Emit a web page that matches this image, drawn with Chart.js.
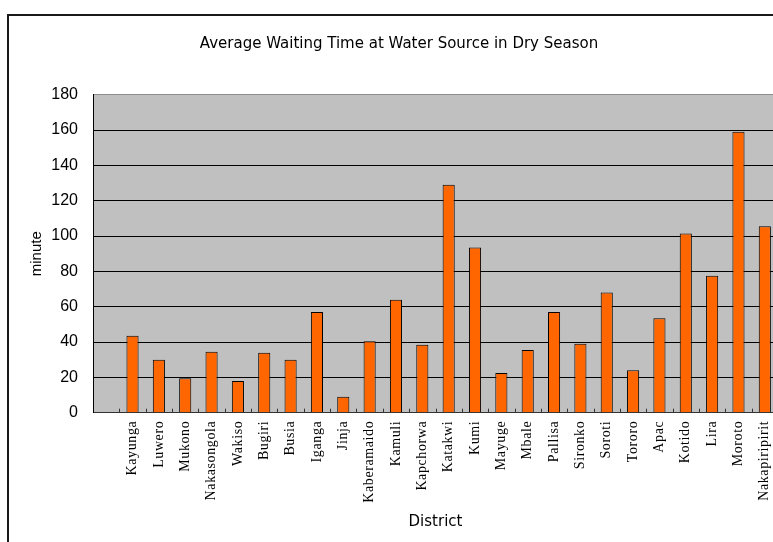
<!DOCTYPE html>
<html>
<head>
<meta charset="utf-8">
<script src="https://cdn.jsdelivr.net/npm/chart.js@4.4.1/dist/chart.umd.min.js"></script>
<style>
  html, body { margin: 0; padding: 0; background: #fff; overflow: hidden; width: 773px; height: 542px; }
  #frame { position: absolute; left: 7px; top: 14px; width: 900px; height: 700px;
           border-left: 2px solid #1a1a1a; border-top: 2px solid #1a1a1a; box-sizing: border-box; }
  #wrap { position: absolute; left: 0; top: 0; width: 790px; height: 542px; }
</style>
</head>
<body>
<div id="frame"></div>
<div id="wrap"><canvas id="chart" width="790" height="542"></canvas></div>
<script>
// District names (first slot intentionally left blank)
const districts = [
  '', 'Kayunga', 'Luwero', 'Mukono', 'Nakasongola', 'Wakiso', 'Bugiri', 'Busia',
  'Iganga', 'Jinja', 'Kaberamaido', 'Kamuli', 'Kapchorwa', 'Katakwi', 'Kumi',
  'Mayuge', 'Mbale', 'Pallisa', 'Sironko', 'Soroti', 'Tororo', 'Apac', 'Kotido',
  'Lira', 'Moroto', 'Nakapiripirit'
];

// Average waiting time at the water source, dry season (minutes)
const waitMinutes = [
  null, 43.5, 30, 19.5, 34.5, 18, 34, 30,
  57, 9, 40.5, 64, 38.5, 129, 93.5,
  22.5, 35.5, 57, 39, 68, 24, 53.5, 101.5,
  77.5, 159, 105.5
];

// Value axis range
const yMin = 0;
const yMax = 180;
const yStep = 20;

// Grey plot-area background
const plotBackground = {
  id: 'plotBackground',
  beforeDraw(chart) {
    const { ctx, chartArea: a } = chart;
    ctx.save();
    ctx.fillStyle = '#c0c0c0';
    ctx.fillRect(a.left, a.top, a.right - a.left, a.bottom - a.top);
    ctx.restore();
  }
};

// Short tick marks pointing up into the plot, between categories
const innerTicks = {
  id: 'innerTicks',
  afterDatasetsDraw(chart) {
    const { ctx, chartArea: a } = chart;
    const x = chart.scales.x;
    ctx.save();
    ctx.strokeStyle = '#333';
    ctx.lineWidth = 1;
    ctx.beginPath();
    for (let i = 1; i < districts.length; i++) {
      const px = Math.round(x.getPixelForValue(i - 0.5)) + 0.5;
      ctx.moveTo(px, a.bottom);
      ctx.lineTo(px, a.bottom - 4);
    }
    ctx.stroke();
    ctx.restore();
  }
};

// Slightly spaced letters for the category labels
const spacedLabels = {
  id: 'spacedLabels',
  afterLayout(chart) {
    const sc = chart.scales.x;
    if (sc && !sc._spaced) {
      const orig = sc.drawLabels.bind(sc);
      sc.drawLabels = function (area) {
        const ctx = chart.ctx;
        ctx.save();
        ctx.letterSpacing = '0.6px';
        orig(area);
        ctx.letterSpacing = '0px';
        ctx.restore();
      };
      sc._spaced = true;
    }
  }
};

new Chart(document.getElementById('chart'), {
  type: 'bar',
  data: {
    labels: districts,
    datasets: [{
      label: 'minute',
      data: waitMinutes,
      backgroundColor: '#ff6600',
      borderColor: '#000000',
      borderWidth: 1,
      borderSkipped: 'bottom',
      barPercentage: 0.46,
      categoryPercentage: 1.0
    }]
  },
  options: {
    responsive: false,
    animation: false,
    events: [],
    layout: { padding: { left: 20, right: 12, top: 0, bottom: 0 } },
    plugins: {
      legend: { display: false },
      tooltip: { enabled: false },
      title: {
        display: true,
        text: 'Average Waiting Time at Water Source in Dry Season',
        color: '#000',
        font: { family: 'DejaVu Sans', size: 15, weight: 'normal', lineHeight: 1.2 },
        padding: { top: 35, bottom: 41.7 }
      }
    },
    scales: {
      x: {
        offset: true,
        grid: { display: false, drawTicks: false },
        border: { display: true, color: '#333', width: 1 },
        ticks: {
          autoSkip: false,
          maxRotation: 90,
          minRotation: 90,
          padding: 8,
          color: '#000',
          font: { family: 'Liberation Serif', size: 14 }
        },
        title: {
          display: true,
          text: 'District',
          color: '#000',
          font: { family: 'DejaVu Sans', size: 15, lineHeight: 1.2 },
          padding: { top: 0, bottom: 11 }
        },
        afterFit(s) { s.height = 129.3; }
      },
      y: {
        min: yMin,
        max: yMax,
        grid: {
          drawTicks: false,
          color: (c) => (c.tick && c.tick.value === yMax ? '#8c8c8c' : '#000'),
          lineWidth: 1
        },
        border: { display: true, color: '#000', width: 1 },
        ticks: {
          stepSize: yStep,
          padding: 15,
          color: '#000',
          font: { family: 'Liberation Sans', size: 16 }
        },
        title: {
          display: true,
          text: 'minute',
          color: '#000',
          font: { family: 'Liberation Sans', size: 15, lineHeight: 1.2 },
          padding: { top: 8, bottom: 0 }
        },
        afterFit(s) { s.width = 73; }
      }
    }
  },
  plugins: [plotBackground, innerTicks, spacedLabels]
});
</script>
</body>
</html>
